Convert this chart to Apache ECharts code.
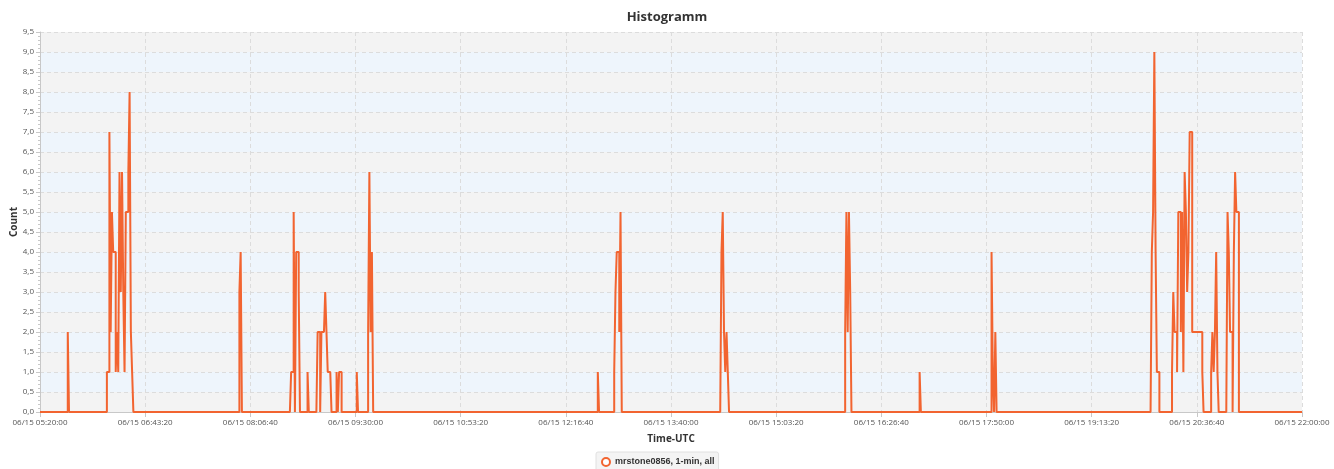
<!DOCTYPE html>
<html>
<head>
<meta charset="utf-8">
<script src="https://cdn.jsdelivr.net/npm/echarts@6/dist/echarts.min.js"></script>
<style>
html,body{margin:0;padding:0;background:#fff;}
#chart{width:1334px;height:469px;}
</style>
</head>
<body>
<div id="chart"></div>
<script>
// Axis range: 06/15 05:20:00 .. 06/15 22:00:00 (1-min bins)
const startLabel = "06/15";
const startHour = 5, startMinute = 20;
const totalMinutes = 1000;

// Non-zero 1-minute bins: minute offset from 05:20 and the count in that minute
const binMinutes = [
  22,
  53,54,55,56,57,58,59,60,61,62,63,64,65,66,67,68,69,70,71,72,73,
  158,159,
  199,200,201,203,204,205,
  212,
  220,221,223,224,225,226,227,228,229,230,
  235,237,238,
  251,
  260,261,262,263,
  442,
  455,456,457,458,459,460,
  540,541,542,543,544,545,
  638,639,640,641,642,
  697,
  754,755,757,
  881,882,883,884,885,886,
  897,898,899,900,901,902,903,904,905,906,907,908,909,910,911,912,913,914,915,916,917,918,919,920,921,
  928,929,930,931,932,933,
  941,942,943,944,946,947,948,949
];
const binCounts = [
  2,
  1,1,7,2,5,4,4,1,2,1,6,3,6,3,1,5,5,6,8,2,1,
  3,4,
  1,1,5,4,4,3,
  1,
  2,2,2,2,2,3,2,1,1,1,
  1,1,1,
  1,
  2,6,2,4,
  1,
  1,3,4,4,2,5,
  4,5,2,1,2,1,
  2,5,2,5,3,
  1,
  4,1,2,
  4,5,9,4,1,1,
  1,3,2,2,1,5,5,2,5,1,6,5,3,4,7,7,2,2,2,2,2,2,2,2,1,
  1,2,1,2,4,1,
  5,4,2,2,4,6,5,5
];

const seriesName = "mrstone0856, 1-min, all";

// full per-minute table (minutes not listed above are 0 in the picture)
const countByMinute = {};
binMinutes.forEach((m, i) => { countByMinute[m] = binCounts[i]; });
const seriesData = [];
for (let m = 0; m <= totalMinutes; m++) {
  seriesData.push([m * 60, countByMinute[m] || 0]);
}

function pad(n){ return (n < 10 ? '0' : '') + n; }
function timeLabel(sec) {
  let total = startHour * 3600 + startMinute * 60 + Math.round(sec);
  const h = Math.floor(total / 3600);
  const mi = Math.floor((total % 3600) / 60);
  const s = total % 60;
  return startLabel + ' ' + pad(h) + ':' + pad(mi) + ':' + pad(s);
}

const FONT = "'Open Sans', 'Noto Sans', sans-serif";
const chart = echarts.init(document.getElementById('chart'), null, {renderer: 'canvas'});
chart.setOption({
  animation: false,
  textStyle: {fontFamily: FONT},
  title: {
    text: 'Histogramm',
    left: 'center',
    top: 6,
    textStyle: {fontFamily: FONT, fontSize: 13, fontWeight: 'bold', color: '#333'}
  },
  legend: {
    data: [{name: seriesName, icon: 'emptyCircle'}],
    left: 596,
    top: 452,
    itemWidth: 8,
    itemHeight: 8,
    itemGap: 4,
    padding: [5, 4, 6, 5],
    backgroundColor: '#f4f4f4',
    borderColor: '#e0e0e0',
    borderWidth: 1,
    borderRadius: 2,
    textStyle: {fontFamily: "'Liberation Sans', Arial, sans-serif", fontSize: 9, fontWeight: 'bold', color: '#333', padding: [0,0,0,0]}
  },
  grid: {left: 40, right: 32, top: 32, bottom: 57, containLabel: false, outerBoundsMode: 'none'},
  xAxis: {
    type: 'value',
    min: 0,
    max: totalMinutes * 60,
    interval: 5000,
    name: 'Time-UTC',
    nameLocation: 'middle',
    nameGap: 22,
    nameMoveOverlap: false,
    nameTextStyle: {fontFamily: FONT, fontSize: 10, fontWeight: 'bold', color: '#333'},
    axisLine: {show: true, onZero: false, lineStyle: {color: '#c8c8c8', width: 1}},
    axisTick: {show: true, length: 5, lineStyle: {color: '#c8c8c8'}},
    axisLabel: {
      fontFamily: FONT, fontSize: 8, color: '#555', margin: 7,
      formatter: v => timeLabel(v)
    },
    splitLine: {show: true, lineStyle: {color: '#dcdcdc', type: [4, 3], width: 1}}
  },
  yAxis: {
    type: 'value',
    min: 0,
    max: 9.5,
    interval: 0.5,
    name: 'Count',
    nameLocation: 'middle',
    nameGap: 21,
    nameMoveOverlap: false,
    nameRotate: 90,
    nameTextStyle: {fontFamily: FONT, fontSize: 10, fontWeight: 'bold', color: '#333'},
    axisLine: {show: true, lineStyle: {color: '#c8c8c8', width: 1}},
    axisTick: {show: true, length: 4, lineStyle: {color: '#c8c8c8'}},
    minorTick: {show: true, splitNumber: 5, length: 2, lineStyle: {color: '#c8c8c8'}},
    axisLabel: {
      fontFamily: FONT, fontSize: 8, color: '#555', margin: 6,
      formatter: v => v.toFixed(1).replace('.', ',')
    },
    splitLine: {show: true, lineStyle: {color: '#dcdcdc', type: [4, 3], width: 1}},
    splitArea: {show: true, areaStyle: {color: ['#f3f3f3', '#eef5fc']}}
  },
  series: [{
    name: seriesName,
    type: 'line',
    step: 'end',
    showSymbol: false,
    symbol: 'emptyCircle',
    color: '#f26430',
    itemStyle: {color: '#f26430'},
    lineStyle: {color: '#f26430', width: 2},
    data: seriesData
  }]
});
</script>
</body>
</html>
